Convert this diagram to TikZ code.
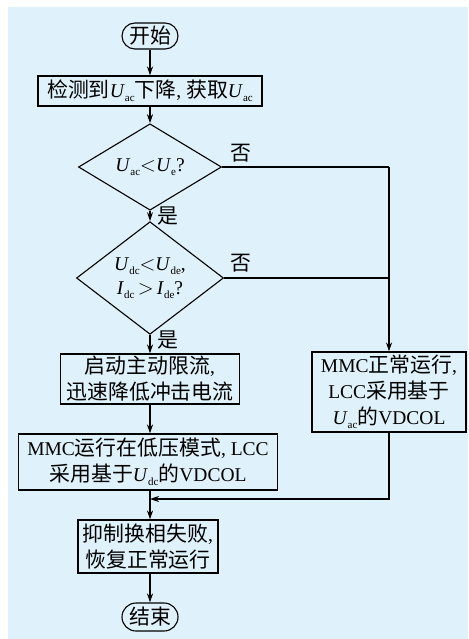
\documentclass[tikz,border=0pt]{standalone}
\usepackage{fontspec}
\setmainfont{Liberation Serif}
\newfontfamily\cjk[Scale=1.07]{Noto Sans CJK SC}
\usetikzlibrary{shapes.geometric,arrows.meta}
\newcommand{\zh}[1]{{\cjk #1}}
\newcommand{\sub}[1]{\raisebox{-0.45ex}{\fontsize{11}{11}\selectfont #1}}
\newcommand{\Vv}[2]{\textit{#1}\sub{#2}}
\definecolor{panel}{RGB}{223,241,250}
\begin{document}
\begin{tikzpicture}[x=1pt,y=-1pt,
  every node/.style={font=\fontsize{19.5}{26}\selectfont},
  box/.style={draw,line width=1.1pt,rectangle,inner sep=0pt,align=center},
  term/.style={draw,line width=1.1pt,rectangle,rounded corners=13pt,inner sep=0pt,minimum width=56pt},
  dec/.style={draw,line width=1.1pt,diamond,inner sep=0pt,align=center},
  arr/.style={line width=1.1pt,-{Stealth[length=9pt,width=6pt]}},
  ln/.style={line width=1.1pt},
  lab/.style={inner sep=0pt}]
\useasboundingbox (0,0) rectangle (468,639);
\fill[panel] (8,7) rectangle (468,639);

\node[term,minimum height=26pt] (st) at (150,36) {\zh{开始}};
\node[box,minimum width=224pt,minimum height=30pt] (b1) at (150,91) {\zh{检测到}\Vv{U}{ac}\zh{下降}, \zh{获取}\Vv{U}{ac}};
\node[dec,minimum width=143pt,minimum height=66pt] (d1) at (150,167) {\Vv{U}{ac}$<$\Vv{U}{e}?};
\node[dec,minimum width=147pt,minimum height=98pt] (d2) at (150,278) {\Vv{U}{dc}$<$\Vv{U}{de},\\[-2pt]\Vv{I}{dc}\,$>$\,\Vv{I}{de}?};
\node[box,minimum width=179pt,minimum height=50pt] (b2) at (150,379) {\zh{启动主动限流},\\\zh{迅速降低冲击电流}};
\node[box,minimum width=259pt,minimum height=56pt] (b3) at (148,462) {MMC\zh{运行在低压模式}, LCC\\\zh{采用基于}\Vv{U}{dc}\zh{的}VDCOL};
\node[box,minimum width=154pt,minimum height=80pt] (bR) at (389,392) {MMC\zh{正常运行},\\LCC\zh{采用基于}\\\Vv{U}{ac}\zh{的}VDCOL};
\node[box,minimum width=140pt,minimum height=53pt] (b4) at (148,546.5) {\zh{抑制换相失败},\\\zh{恢复正常运行}};
\node[term,minimum height=28pt,rounded corners=14pt] (en) at (150,617) {\zh{结束}};

\coordinate (r1) at (389,167);
\coordinate (r2) at (389,278);
\coordinate (m) at (150,499);

\draw[arr] (st) -- (b1);
\draw[arr] (b1) -- (d1);
\draw[arr] (d1) -- (d2);
\draw[arr] (d2) -- (b2.north -| d2.south);
\draw[arr] (b2.south -| st.south) -- (b3.north -| st.south);
\draw[ln] (b3.south -| st.south) -- (m);
\draw[arr] (m) -- (b4.north -| st.south);
\draw[arr] (b4.south -| st.south) -- (en);
\draw[ln] (d1.east) -- (r1);
\draw[arr] (r1) -- (bR.north);
\draw[ln] (d2.east) -- (r2);
\draw[arr] (bR.south) |- (m);

\node[lab] (n1) at (241,153) {\zh{否}};
\node[lab] (n2) at (241,263) {\zh{否}};
\node[lab] (y1) at (168,216) {\zh{是}};
\node[lab] (y2) at (168,340) {\zh{是}};
\end{tikzpicture}
\end{document}
